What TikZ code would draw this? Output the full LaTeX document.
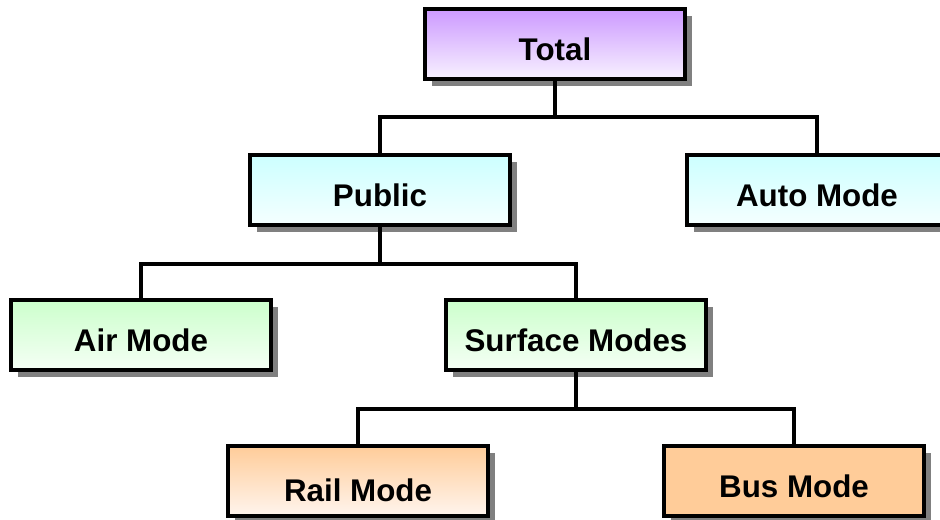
\documentclass[tikz,border=0pt]{standalone}
\usepackage{fontspec}
\setmainfont{Liberation Sans}
\usetikzlibrary{shadows}
\definecolor{violettop}{HTML}{CC99FF}
\definecolor{violetlow}{HTML}{F8F2FF}
\definecolor{cyantop}{HTML}{CCFFFF}
\definecolor{cyanlow}{HTML}{F5FFFF}
\definecolor{greentop}{HTML}{CCFFCC}
\definecolor{greenlow}{HTML}{F5FFF5}
\definecolor{peach}{HTML}{FFCC99}
\definecolor{peachlow}{HTML}{FFF5EE}
\tikzset{
  modebox/.style={draw=black, line width=2.6pt, minimum width=195pt, minimum height=52.5pt, inner sep=0pt, text height=25.5pt, text depth=0pt, font=\fontsize{23.5}{27}\selectfont\bfseries, drop shadow={shadow xshift=5.5pt, shadow yshift=-5.5pt, fill=black!50, opacity=1}},
  totalbox/.style={modebox, top color=violettop, bottom color=violetlow},
  publicbox/.style={modebox, top color=cyantop, bottom color=cyanlow},
  groundbox/.style={modebox, top color=greentop, bottom color=greenlow},
  railbox/.style={modebox, top color=peach, bottom color=peachlow},
  busbox/.style={modebox, fill=peach},
  link/.style={line width=2.4pt, draw=black, line cap=rect}
}

\begin{document}
\begin{tikzpicture}[x=0.75pt, y=-0.75pt]
  \useasboundingbox (0,0) rectangle (940,520);

  \node[totalbox] (total) at (555,44) {Total};
  \node[publicbox] (public) at (380,190) {Public};
  \node[publicbox] (auto) at (817,190) {Auto Mode};
  \node[groundbox] (air) at (141,335) {Air Mode};
  \node[groundbox] (surface) at (576,335) {Surface Modes};
  \node[railbox, text height=31.5pt] (rail) at (358,481) {Rail Mode};
  \node[busbox] (bus) at (794,481) {Bus Mode};

  % horizontal bus lines of each level
  \coordinate (busa) at (0,117);
  \coordinate (busb) at (0,264);
  \coordinate (busc) at (0,409);

  \draw[link] (total.south) -- (total.south |- busa);
  \draw[link] (public.north) |- (auto.north |- busa) -- (auto.north);
  \draw[link] (public.south) -- (public.south |- busb);
  \draw[link] (air.north) |- (surface.north |- busb) -- (surface.north);
  \draw[link] (surface.south) -- (surface.south |- busc);
  \draw[link] (rail.north) |- (bus.north |- busc) -- (bus.north);
\end{tikzpicture}
\end{document}
